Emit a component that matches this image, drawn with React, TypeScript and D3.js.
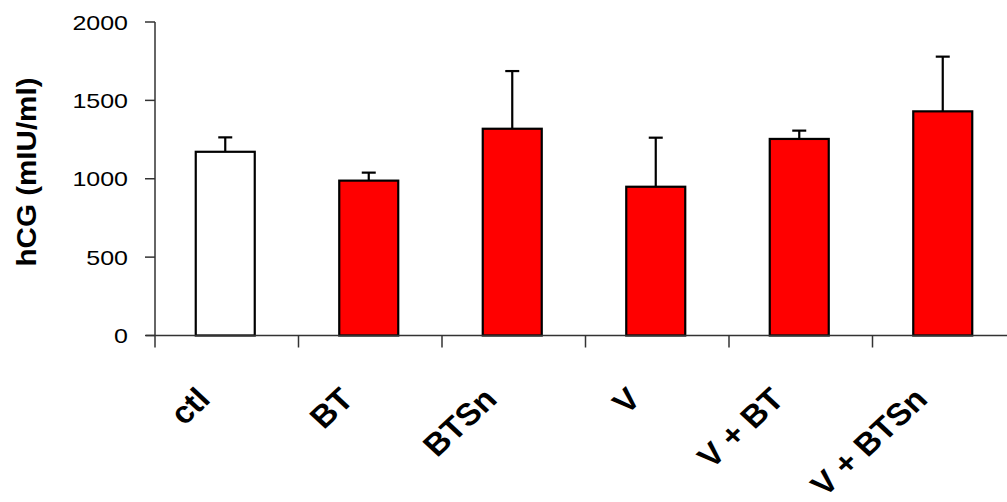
import React from "react";
import * as d3 from "d3";

const categories = ["ctl", "BT", "BTSn", "V", "V + BT", "V + BTSn"];
const means = [1172, 988, 1319, 949, 1254, 1430];
const errors = [92, 51, 368, 313, 53, 349];
const fills = ["#ffffff", "#ff0000", "#ff0000", "#ff0000", "#ff0000", "#ff0000"];
const yTicks = [0, 500, 1000, 1500, 2000];
const yTitle = "hCG (mIU/ml)";

const W = 1007;
const H = 502;
const axisX = 155;
const x = d3.scaleBand<string>().domain(categories).range([axisX, axisX + 6 * 143.5]).padding(0);
const y = d3.scaleLinear().domain([0, 2000]).range([335.5, 22]);
const barW = 59;
const capW = 14;
const font = "'Liberation Sans', Arial, sans-serif";

export default function App() {
  const step = x.step();
  return (
    <svg width={W} height={H} style={{ position: "absolute", left: 0, top: 0, background: "#fff" }}>
      {/* bars */}
      {categories.map((c, i) => {
        const cx = (x(c) as number) + step / 2 - 1.5;
        return (
          <g key={c}>
            <line x1={cx} x2={cx} y1={y(means[i])} y2={y(means[i] + errors[i])} stroke="#000" strokeWidth={2.2} />
            <line x1={cx - capW / 2} x2={cx + capW / 2} y1={y(means[i] + errors[i])} y2={y(means[i] + errors[i])} stroke="#000" strokeWidth={2.2} />
            <rect x={cx - barW / 2} y={y(means[i])} width={barW} height={y(0) - y(means[i])} fill={fills[i]} stroke="#000" strokeWidth={2.2} />
          </g>
        );
      })}
      {/* y axis */}
      <line x1={axisX} x2={axisX} y1={y(2000)} y2={y(0) + 12} stroke="#333" strokeWidth={1.5} />
      {yTicks.map((t) => (
        <g key={t}>
          <line x1={axisX - 10} x2={axisX} y1={y(t)} y2={y(t)} stroke="#333" strokeWidth={1.5} />
          <text
            x={128}
            y={y(t)}
            dy="0.36em"
            textAnchor="end"
            fontFamily={font}
            fontSize={21}
            fill="#000"
            transform={`translate(128,0) scale(1.19,1) translate(-128,0)`}
          >
            {t}
          </text>
        </g>
      ))}
      {/* x axis */}
      <line x1={axisX - 9} x2={W} y1={y(0)} y2={y(0)} stroke="#333" strokeWidth={1.5} />
      {categories.map((c) => (
        <line key={"t" + c} x1={(x(c) as number) + step} x2={(x(c) as number) + step} y1={y(0)} y2={y(0) + 12} stroke="#333" strokeWidth={1.5} />
      ))}
      {categories.map((c) => {
        const cx = (x(c) as number) + step / 2;
        return (
          <text
            key={"l" + c}
            transform={`translate(${cx - 15},401) scale(1.08,1) rotate(-45)`}
            textAnchor="end"
            fontFamily={font}
            fontWeight="bold"
            fontSize={31}
            fill="#000"
          >
            {c}
          </text>
        );
      })}
      {/* y title */}
      <text
        transform={`translate(36,172) rotate(-90)`}
        textAnchor="middle"
        fontFamily={font}
        fontWeight="bold"
        fontSize={27}
        textLength={189}
        lengthAdjust="spacingAndGlyphs"
        fill="#000"
      >
        {yTitle}
      </text>
    </svg>
  );
}
